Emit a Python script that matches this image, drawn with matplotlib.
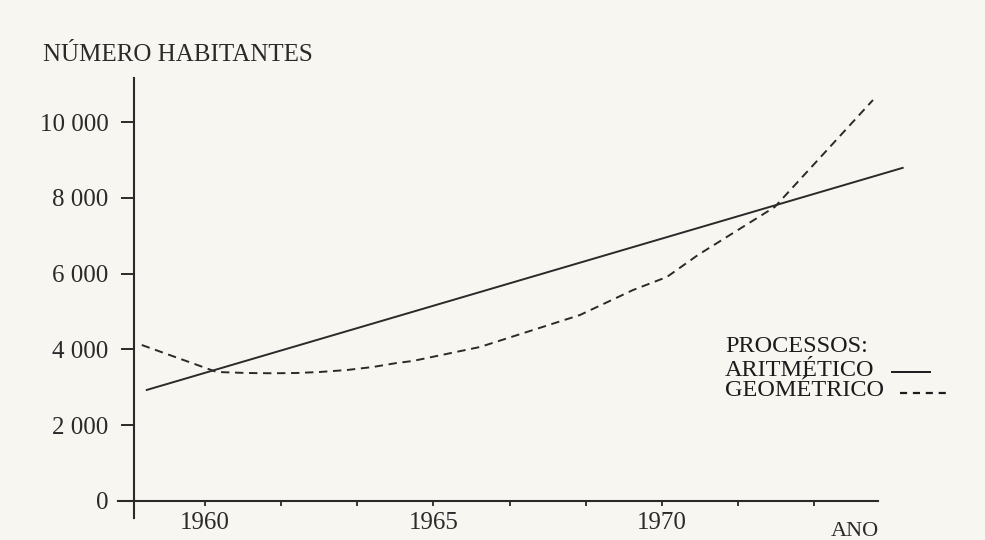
import matplotlib
matplotlib.use("Agg")
import matplotlib.pyplot as plt
from matplotlib.lines import Line2D

plt.rcParams['font.family'] = ['Liberation Serif', 'DejaVu Serif']

# values
arit_years = [1958.73, 1975.27]
arit_values = [2930, 8790]

geo_years = [1958.62, 1960.26, 1960.92, 1961.49, 1962.01, 1962.52, 1963.11,
             1963.68, 1964.20, 1964.55, 1966.02, 1968.21, 1969.37, 1970.11,
             1970.79, 1972.47, 1974.62]
geo_values = [4116, 3404, 3377, 3370, 3377, 3404, 3456,
              3536, 3641, 3694, 4063, 4908, 5567, 5910,
              6491, 7757, 10580]

y_ticks = [0, 2000, 4000, 6000, 8000, 10000]
y_labels = ['0', '2 000', '4 000', '6 000', '8 000', '10 000']
x_ticks = [1960 + k * 5 / 3 for k in range(9)]
x_labels = ['1960', '', '', '1965', '', '', '1970', '', '']

paper = '#f8f6f1'
ink = '#2a2a2a'
W, H = 985, 540

fig = plt.figure(figsize=(W / 100, H / 100), dpi=100, facecolor=paper)
ax = fig.add_axes([118 / W, (H - 518) / H, 760 / W, 440 / H])
ax.set_facecolor(paper)

ax.set_xlim(1958.10, 1974.73)
ax.set_ylim(-449, 11161)

for s in ['top', 'right']:
    ax.spines[s].set_visible(False)
ax.spines['left'].set_position(('data', 1958.45))
ax.spines['bottom'].set_position(('data', 0))
for s in ['left', 'bottom']:
    ax.spines[s].set_color(ink)
    ax.spines[s].set_linewidth(1.5)

ax.set_yticks(y_ticks)
ax.set_yticklabels(y_labels)
ax.set_xticks(x_ticks)
ax.set_xticklabels(x_labels)
ax.tick_params(axis='y', direction='out', length=9.5, width=1.4, color=ink,
               pad=9, labelsize=18, labelcolor=ink)
ax.tick_params(axis='x', direction='out', length=3.6, width=1.3, color=ink,
               pad=4, labelsize=18, labelcolor=ink)

ax.plot(arit_years, arit_values, color=ink, lw=1.4, clip_on=False)
ax.plot(geo_years, geo_values, color=ink, lw=1.4, linestyle=(0, (4.3, 2.9)),
        clip_on=False)

fig.text(43 / W, 1 - 55 / H, 'NÚMERO HABITANTES', fontsize=18, color=ink,
         ha='left', va='center')
fig.text(855 / W, 1 - 532 / H, 'ANO', fontsize=16, color=ink,
         ha='center', va='center')

# legend written as in the book
legend_ink = '#1c1c1c'
fig.text(725 / W, 1 - 347 / H, 'PROCESSOS:', fontsize=17.5, color=legend_ink,
         ha='left', va='center')
fig.text(725 / W, 1 - 370 / H, 'ARITMÉTICO', fontsize=17.5, color=legend_ink,
         ha='left', va='center')
fig.text(725 / W, 1 - 391 / H, 'GEOMÉTRICO', fontsize=17.5, color=legend_ink,
         ha='left', va='center')
fig.add_artist(Line2D([892 / W, 930 / W], [1 - 372 / H, 1 - 372 / H],
                      color=legend_ink, lw=1.4))
fig.add_artist(Line2D([900 / W, 950 / W], [1 - 393 / H, 1 - 393 / H],
                      color=legend_ink, lw=1.6, linestyle=(0, (3.2, 2.6))))

fig.savefig('out.png', dpi=100, facecolor=paper)
